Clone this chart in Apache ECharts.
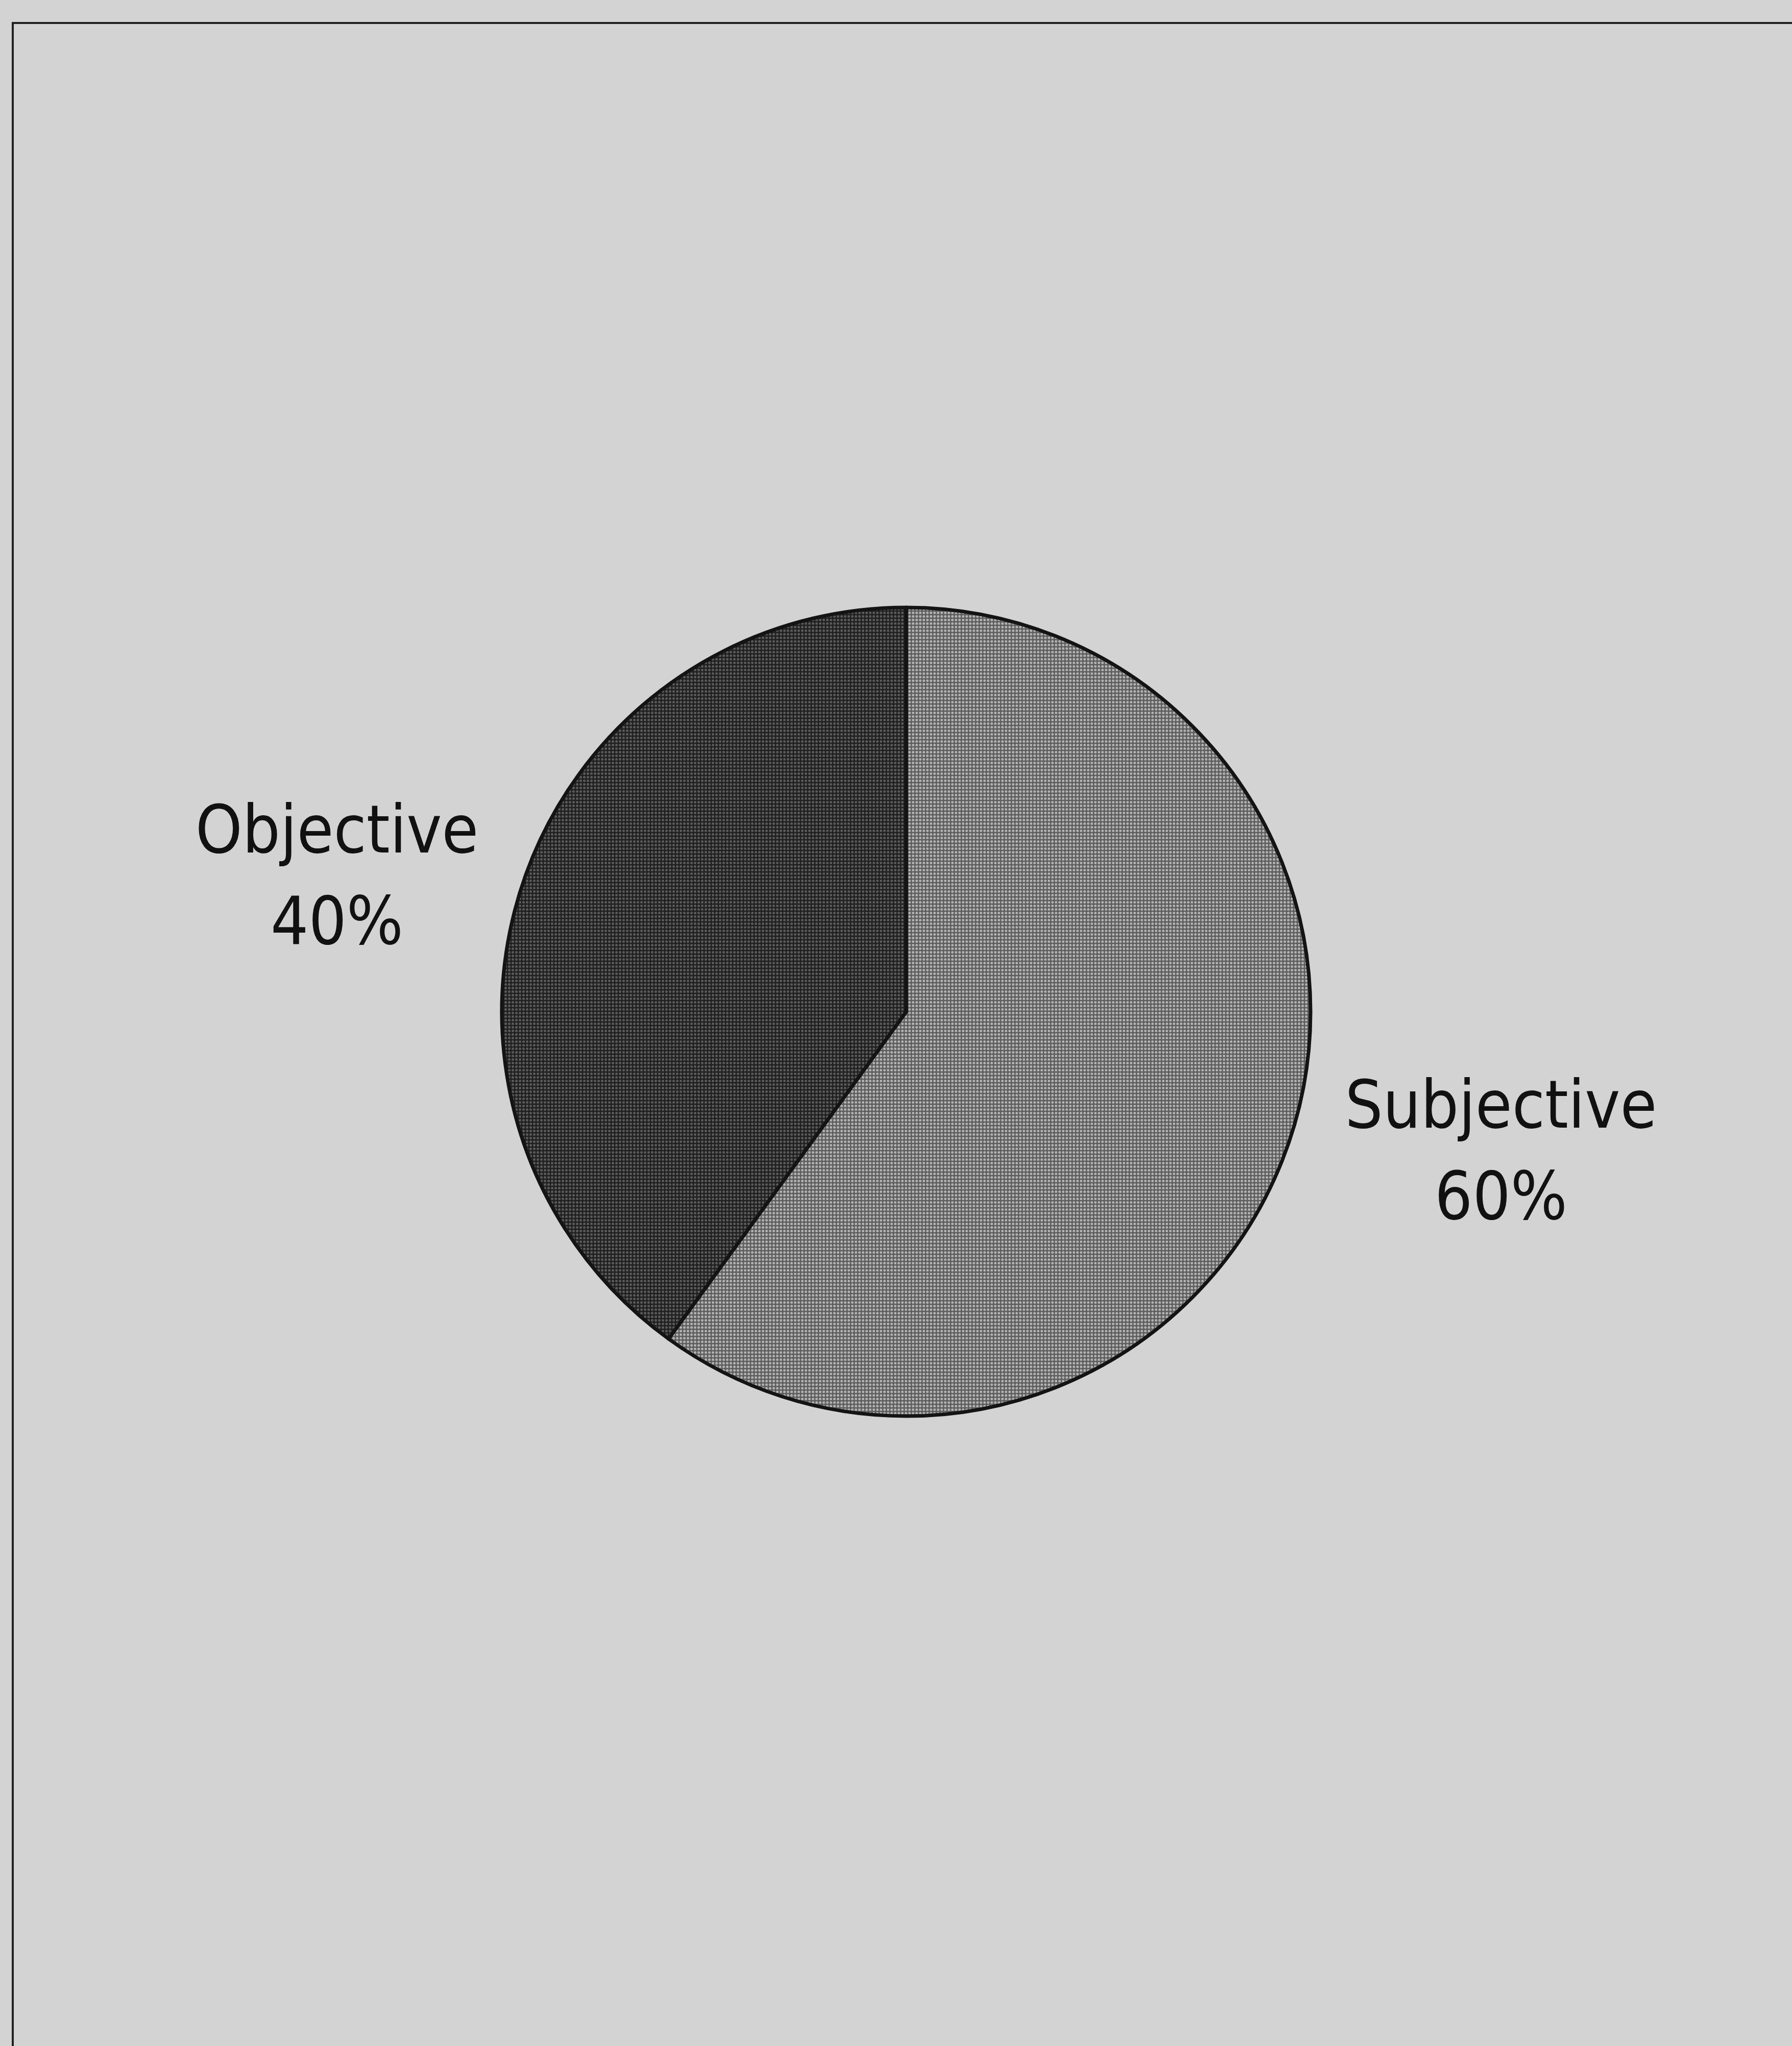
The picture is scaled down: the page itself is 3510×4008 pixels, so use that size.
<!DOCTYPE html>
<html>
<head>
<meta charset="utf-8">
<title>Objective vs Subjective</title>
<script src="https://cdn.jsdelivr.net/npm/echarts@6/dist/echarts.min.js"></script>
<style>
  html, body { margin: 0; padding: 0; background: #d3d3d3; }
  #chart { width: 3510px; height: 4008px; }
</style>
</head>
<body>
<div id="chart"></div>
<script>
// Slice names and their shares (percent)
const categories = ['Subjective', 'Objective'];
const shares = [60, 40];

// Halftone-like dot fill for each slice
function dotPattern(bg, dot) {
  const c = document.createElement('canvas');
  c.width = 7; c.height = 7;
  const g = c.getContext('2d');
  g.fillStyle = bg;
  g.fillRect(0, 0, 7, 7);
  g.fillStyle = dot;
  g.beginPath();
  g.arc(3.5, 3.5, 2.5, 0, Math.PI * 2);
  g.fill();
  return { image: c, repeat: 'repeat' };
}
const sliceFills = [dotPattern('#5e5e5e', '#b2b2b2'), dotPattern('#202020', '#5a5a5a')];

// Where each two-line label block is centred
const labelAnchors = [[2940, 2265], [660, 1726]];

const chart = echarts.init(document.getElementById('chart'), null, { renderer: 'canvas' });
chart.setOption({
  backgroundColor: '#d3d3d3',
  animation: false,
  graphic: [{
    type: 'rect',
    shape: { x: 25, y: 45, width: 3600, height: 4100 },
    style: { fill: 'none', stroke: '#222', lineWidth: 4 },
    silent: true
  }],
  series: [{
    type: 'pie',
    center: [1775, 1982],
    radius: 792,
    startAngle: 90,
    clockwise: true,
    avoidLabelOverlap: false,
    data: categories.map((name, i) => ({
      name: name,
      value: shares[i],
      itemStyle: { color: sliceFills[i] }
    })),
    itemStyle: { borderColor: '#141414', borderWidth: 7 },
    label: {
      show: true,
      position: 'outside',
      formatter: '{b}\n{d}%',
      fontFamily: "'Liberation Sans Narrow', 'DejaVu Sans Condensed', 'Roboto', sans-serif",
      fontSize: 130,
      lineHeight: 179,
      color: '#111',
      align: 'center'
    },
    labelLine: { show: false },
    labelLayout: function (params) {
      const p = labelAnchors[params.dataIndex];
      return { x: p[0], y: p[1], align: 'center', verticalAlign: 'middle' };
    },
    emphasis: { disabled: true }
  }]
});
</script>
</body>
</html>
